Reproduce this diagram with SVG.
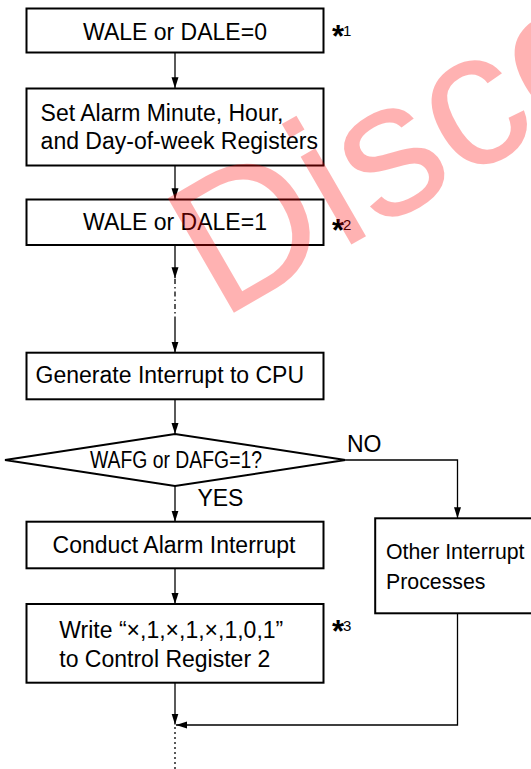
<svg xmlns="http://www.w3.org/2000/svg" width="531" height="769" viewBox="0 0 531 769">
<defs>
<marker id="ah" markerUnits="userSpaceOnUse" markerWidth="12" markerHeight="8" refX="11" refY="3.5" orient="auto">
<path d="M0,0 L11,3.5 L0,7 z" fill="#000"/>
</marker>
<style>
.box{fill:none;stroke:#000;stroke-width:2}
.t{font-family:"Liberation Sans",Arial,sans-serif;font-size:23px;fill:#000}
.c{text-anchor:middle}
.ln{fill:none;stroke:#000;stroke-width:1.3}
.arr{marker-end:url(#ah)}
.star{font-family:"Liberation Sans",Arial,sans-serif;font-size:31px;font-weight:bold;fill:#000}
.num{font-size:15px;font-weight:normal}
</style>
</defs>
<rect width="531" height="769" fill="#fff"/>

<g id="n1">
<rect class="box" x="26.5" y="8.5" width="297" height="44"/>
<text class="t c" x="175" y="40">WALE or DALE=0</text>
<text class="star" x="332" y="46.5">*<tspan class="num" dx="-1" dy="-10.5">1</tspan></text>
</g>
<g id="n2">
<rect class="box" x="26.5" y="88.5" width="297" height="77"/>
<text class="t" x="40.6" y="120.7">Set Alarm Minute, Hour,</text>
<text class="t" x="40.6" y="149.3">and Day-of-week Registers</text>
</g>
<g id="n3">
<rect class="box" x="26.5" y="199.5" width="297" height="45.5"/>
<text class="t c" x="175" y="230">WALE or DALE=1</text>
<text class="star" x="332" y="240.5">*<tspan class="num" dx="-1" dy="-10.5">2</tspan></text>
</g>
<g id="n4">
<rect class="box" x="26.5" y="352.7" width="297" height="46.6"/>
<text class="t" x="35.6" y="382.7">Generate Interrupt to CPU</text>
</g>
<g id="n5">
<polygon class="box" points="5,460 175,434 345.4,460 175,486"/>
<text class="t c" x="176" y="468.3" textLength="172" lengthAdjust="spacingAndGlyphs">WAFG or DAFG=1?</text>
</g>
<g id="n6">
<rect class="box" x="26.5" y="521.7" width="297" height="46.6"/>
<text class="t c" x="174" y="553.3">Conduct Alarm Interrupt</text>
</g>
<g id="n7">
<rect class="box" x="26.5" y="604" width="297" height="78.7"/>
<text class="t" x="59.3" y="638.3">Write “×,1,×,1,×,1,0,1”</text>
<text class="t" x="59.3" y="666.7">to Control Register 2</text>
<text class="star" x="332" y="641.5">*<tspan class="num" dx="-1" dy="-10.5">3</tspan></text>
</g>
<g id="n8">
<rect class="box" x="375.2" y="518.3" width="170" height="95"/>
<text class="t" x="386" y="559.3" style="font-size:21.3px">Other Interrupt</text>
<text class="t" x="386" y="589.3" style="font-size:21.3px">Processes</text>
</g>

<g id="connectors">
<path class="ln arr" d="M175,52.7 V88.3"/>
<path class="ln arr" d="M175,165.7 V199.3"/>
<path class="ln arr" d="M175,245 V278.3"/>
<path class="ln" d="M175,279 V317" stroke-dasharray="5 3 1.5 3"/>
<path class="ln arr" d="M175,317 V352.7"/>
<path class="ln arr" d="M175,399.3 V434"/>
<path class="ln arr" d="M175,486 V521.7"/>
<path class="ln arr" d="M345.4,460 H457.5 V518.3"/>
<path class="ln arr" d="M175,568.3 V604"/>
<path class="ln arr" d="M175,682.7 V724.5"/>
<path class="ln arr" d="M457.5,613.3 V725 H176"/>
<path class="ln" d="M175,727 V769" stroke-dasharray="2 3"/>
<text class="t" x="347" y="451.7">NO</text>
<text class="t" x="197.4" y="506">YES</text>
</g>

<text x="220.2" y="320.4" transform="rotate(-30 220.2 320.4)" font-family="Liberation Sans, Arial, sans-serif" font-size="192" fill="#ff0000" fill-opacity="0.3">Disco</text>
</svg>
